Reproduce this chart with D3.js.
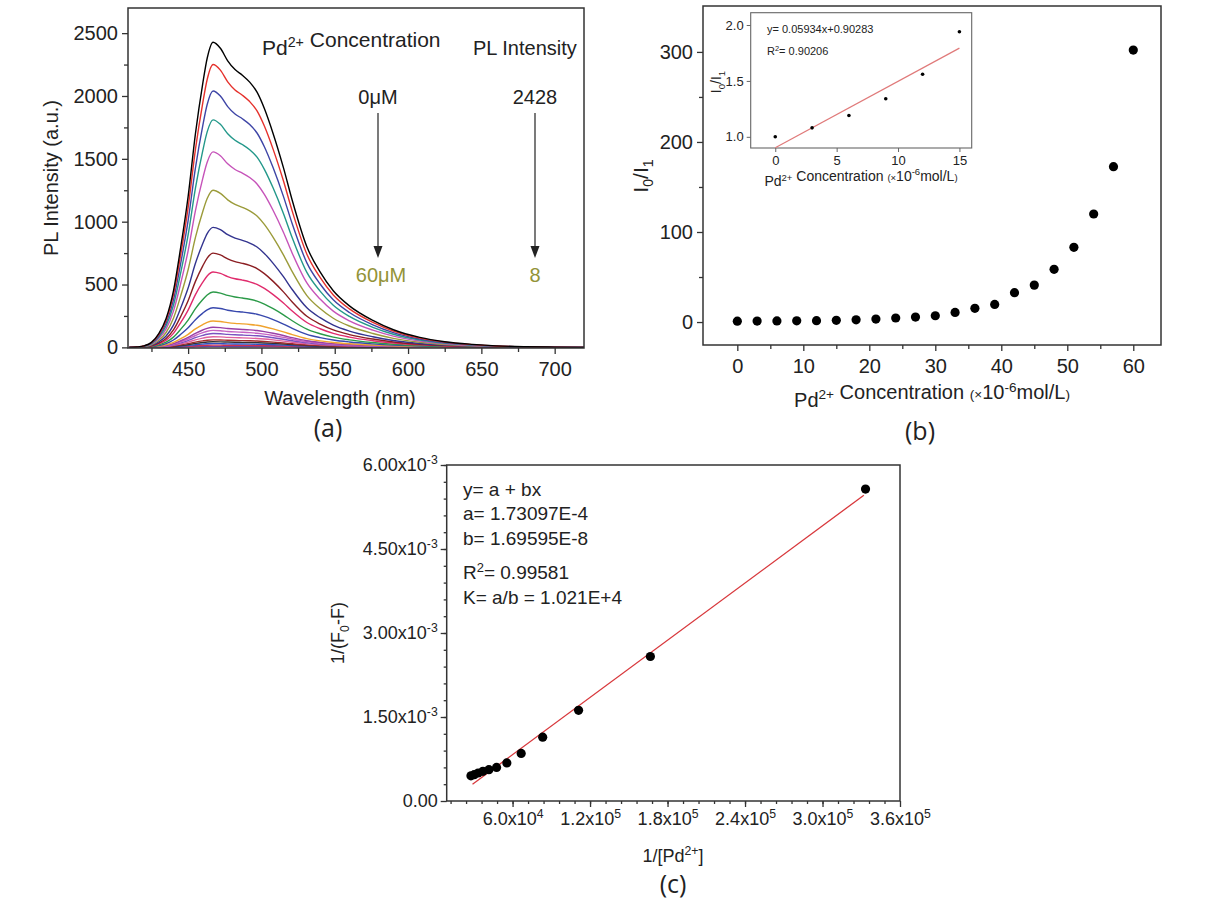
<!DOCTYPE html>
<html>
<head>
<meta charset="utf-8">
<script src="https://cdn.jsdelivr.net/npm/d3@7"></script>
<style>
  body { margin: 0; background: #fff; }
  svg { font-family: "Liberation Sans", Arial, sans-serif; }
</style>
</head>
<body>
<svg width="1208" height="908"></svg>
<script>
// ---------- data ----------
// (a) PL spectra: one measured profile (0 uM, black) and the peak of every curve
const wavelengths = [410, 415, 420, 425, 430, 435, 440, 445, 450, 455, 460, 463, 467, 472, 477, 482, 487, 492, 497, 502, 508, 515, 521, 531, 540, 549, 560, 576, 590, 608, 625, 644, 660, 680, 700, 720];
const spectrum0 = [0, 3, 12, 40, 110, 230, 450, 800, 1200, 1700, 2100, 2300, 2428, 2380, 2280, 2210, 2165, 2110, 2030, 1900, 1700, 1430, 1170, 800, 600, 450, 330, 214, 140, 79, 45, 24, 12, 5, 2, 0];
const pdConc = [0, 3, 6, 9, 12, 15, 18, 21, 24, 27, 30, 33, 36, 39, 42, 45, 48, 51, 54, 57, 60];
const peakIntensity = [2428, 2250, 2040, 1810, 1555, 1250, 955, 750, 600, 440, 315, 210, 160, 135, 110, 85, 60, 45, 30, 18, 8];
const curveColors = ["#000000", "#e5312c", "#3e45a6", "#23988a", "#c653b9", "#9b9b3a", "#33348f", "#8b1e22", "#e02b6c", "#2b9a48", "#3848ad", "#f0a32e", "#9a3fa6", "#c663c4", "#7a52c0", "#e0609e", "#a02c2c", "#333333", "#3050c0", "#d03050", "#6d3f9e"];

// (b) I0/I1 vs Pd2+ concentration, with inset
const ratioI0I1 = [1.0, 1.08, 1.2, 1.34, 1.56, 1.93, 2.5, 3.3, 4.5, 5.5, 7, 10.7, 15.2, 19.6, 32.6, 41, 58.5, 83, 120, 172.6, 302];
const insetConc = [0, 3, 6, 9, 12, 15];
const insetRatio = [1.0, 1.08, 1.19, 1.34, 1.56, 1.94];
const insetFitX = [0, 15];
const insetFitY = [0.903, 1.793];

// (c) 1/(F0-F) vs 1/[Pd2+]
const invPd = [3.333e5, 1.667e5, 1.111e5, 8.333e4, 6.667e4, 5.556e4, 4.762e4, 4.167e4, 3.704e4, 3.333e4, 3.030e4, 2.778e4];
const invDiff = [5.57e-3, 2.58e-3, 1.62e-3, 1.14e-3, 0.85e-3, 0.68e-3, 0.60e-3, 0.56e-3, 0.53e-3, 0.50e-3, 0.47e-3, 0.45e-3];
const fitX = [2.9e4, 3.32e5];
const fitY = [0.30e-3, 5.46e-3];

const svg = d3.select("svg");
const INK = "#222";
const PANEL_FONT = '"Open Sans", "DejaVu Sans", sans-serif';

// text with super/subscripts: parts = ["txt", ["2+", "sup"], ...]
function rich(sel, parts, size) {
  sel.text(null);
  let shift = 0;
  parts.forEach(p => {
    const [t, k] = Array.isArray(p) ? p : [p, "n"];
    const target = k === "sup" ? -0.38 * size : k === "sub" ? 0.26 * size : 0;
    const ts = sel.append("tspan").text(t);
    if (target !== shift) ts.attr("dy", target - shift);
    shift = target;
    if (k !== "n") ts.attr("font-size", 0.68 * size);
  });
}

function label(x, y, parts, size, opts = {}) {
  const t = svg.append("text")
    .attr("x", x).attr("y", y)
    .attr("font-size", size)
    .attr("fill", opts.fill || INK)
    .attr("text-anchor", opts.anchor || "middle");
  if (opts.family) t.attr("font-family", opts.family);
  if (opts.rotate) t.attr("transform", `rotate(-90,${x},${y})`);
  rich(t, parts, size);
  return t;
}

// framed axes with outward major + minor ticks
function axes(x, y, o) {
  const [x0, x1] = x.range(), [yb, yt] = y.range();
  const g = svg.append("g");
  const col = o.color || "#333";
  const style = sel => {
    sel.select(".domain").remove();
    sel.selectAll(".tick line").attr("stroke", col).attr("stroke-width", o.tickWidth || 1.3);
    sel.selectAll(".tick text").attr("fill", INK).attr("font-size", o.size);
  };
  if (o.xMinor) g.append("g").attr("transform", `translate(0,${yb})`)
    .call(d3.axisBottom(x).tickValues(o.xMinor).tickSize(o.minor).tickFormat("")).call(style);
  if (o.yMinor) g.append("g").attr("transform", `translate(${x0},0)`)
    .call(d3.axisLeft(y).tickValues(o.yMinor).tickSize(o.minor).tickFormat("")).call(style);
  const gx = g.append("g").attr("transform", `translate(0,${yb})`)
    .call(d3.axisBottom(x).tickValues(o.xMajor).tickSize(o.major).tickPadding(o.xPad).tickFormat(d => d))
    .call(style);
  const gy = g.append("g").attr("transform", `translate(${x0},0)`)
    .call(d3.axisLeft(y).tickValues(o.yMajor).tickSize(o.major).tickPadding(o.yPad).tickFormat(d => d))
    .call(style);
  if (o.xFmt) gx.selectAll(".tick text").each(function (d) { rich(d3.select(this), o.xFmt(d), o.size); });
  if (o.yFmt) gy.selectAll(".tick text").each(function (d) { rich(d3.select(this), o.yFmt(d), o.size); });
  g.append("rect")
    .attr("x", x0).attr("y", yt).attr("width", x1 - x0).attr("height", yb - yt)
    .attr("fill", "none").attr("stroke", col).attr("stroke-width", o.frameWidth || 1.5);
  return g;
}

function arrow(x, yFrom, yTo) {
  svg.append("line").attr("x1", x).attr("x2", x).attr("y1", yFrom).attr("y2", yTo - 10)
    .attr("stroke", "#333").attr("stroke-width", 1.3);
  svg.append("path")
    .attr("d", `M${x - 4.5},${yTo - 12}L${x + 4.5},${yTo - 12}L${x},${yTo}Z`)
    .attr("fill", "#222");
}

// ---------- (a) ----------
const ax = d3.scaleLinear().domain([409, 720]).range([128, 584]);
const ay = d3.scaleLinear().domain([-5, 2700]).range([348, 8]);

svg.append("clipPath").attr("id", "clipA").append("rect")
  .attr("x", 128).attr("y", 8).attr("width", 456).attr("height", 340);

const spectra = peakIntensity.map(p => spectrum0.map(v => v * p / 2428));
const lineA = d3.line()
  .x((d, i) => ax(wavelengths[i]))
  .y(d => ay(d))
  .curve(d3.curveMonotoneX);

svg.append("g").attr("clip-path", "url(#clipA)")
  .selectAll("path")
  .data(spectra.map((s, i) => ({ s, i })).reverse())
  .join("path")
  .attr("d", d => lineA(d.s))
  .attr("fill", "none")
  .attr("stroke", d => curveColors[d.i])
  .attr("stroke-width", 1.4);

axes(ax, ay, {
  xMajor: d3.range(450, 701, 50), xMinor: d3.range(425, 700, 50),
  yMajor: d3.range(0, 2501, 500), yMinor: d3.range(250, 2300, 500),
  major: 6, minor: 4, xPad: 8, yPad: 4, size: 20
});

label(340, 405, ["Wavelength (nm)"], 20);
label(58, 178, ["PL Intensity (a.u.)"], 20, { rotate: true });
label(262, 55, ["Pd", ["2+", "sup"], ["", "n"], " Concentration"], 21, { anchor: "start" });
label(473, 55, ["PL Intensity"], 20, { anchor: "start" });
label(378, 104, ["0\u03bcM"], 20);
label(535, 104, ["2428"], 20);
arrow(378, 113, 258);
arrow(535, 113, 258);
label(381, 282, ["60\u03bcM"], 20, { fill: "#939338" });
label(535, 282, ["8"], 20, { fill: "#939338" });
label(328, 437, ["(a)"], 25, { family: PANEL_FONT });

// ---------- (b) ----------
const bx = d3.scaleLinear().domain([-5.2, 64.2]).range([703, 1161]);
const by = d3.scaleLinear().domain([-25.5, 351]).range([345, 6]);

axes(bx, by, {
  xMajor: d3.range(0, 61, 10), xMinor: d3.range(5, 60, 10),
  yMajor: d3.range(0, 301, 100), yMinor: d3.range(50, 300, 100),
  major: 6, minor: 4, xPad: 8, yPad: 4, size: 20
});

svg.append("g").selectAll("circle")
  .data(pdConc.map((c, i) => [c, ratioI0I1[i]]))
  .join("circle")
  .attr("cx", d => bx(d[0])).attr("cy", d => by(d[1]))
  .attr("r", 4.6).attr("fill", "#000");

const concTitle = ["Pd", ["2+", "sup"], ["", "n"], " Concentration ", ["(\u00d7", "small"], ["10", "n"], ["-6", "sup"], ["mol/L", "n"], [")", "small"]];
label(932, 407, concTitle, 20);
label(648, 176, ["I", ["0", "sub"], ["/I", "n"], ["1", "sub"]], 21, { rotate: true });
label(920, 440, ["(b)"], 25, { family: PANEL_FONT });

// inset
const ix = d3.scaleLinear().domain([-2, 16]).range([750.7, 971.7]);
const iy = d3.scaleLinear().domain([0.9, 2.11]).range([148, 12.7]);
axes(ix, iy, {
  xMajor: [0, 5, 10, 15], yMajor: [1.0, 1.5, 2.0],
  major: 4, minor: 2, xPad: 4, yPad: 3, size: 13,
  color: "#666", frameWidth: 1.1, tickWidth: 1,
  yFmt: d => [d3.format(".1f")(d)]
});
svg.append("line")
  .attr("x1", ix(insetFitX[0])).attr("y1", iy(insetFitY[0]))
  .attr("x2", ix(insetFitX[1])).attr("y2", iy(insetFitY[1]))
  .attr("stroke", "#e07a7a").attr("stroke-width", 1.2);
svg.append("g").selectAll("circle")
  .data(insetConc.map((c, i) => [c, insetRatio[i]]))
  .join("circle")
  .attr("cx", d => ix(d[0])).attr("cy", d => iy(d[1]))
  .attr("r", 1.8).attr("fill", "#000");
label(767, 33, ["y= 0.05934x+0.90283"], 11, { anchor: "start" });
label(767, 55, ["R", ["2", "sup"], ["= 0.90206", "n"]], 11, { anchor: "start" });
label(861, 186, concTitle, 14);
label(721, 82, ["I", ["0", "sub"], ["/I", "n"], ["1", "sub"]], 14, { rotate: true });

// ---------- (c) ----------
const cx = d3.scaleLinear().domain([9000, 360000]).range([446.7, 900]);
const cy = d3.scaleLinear().domain([0, 6e-3]).range([801, 465]);

const sci = (d, digits) => {
  const e = Math.floor(Math.log10(d));
  return [(d / Math.pow(10, e)).toFixed(digits) + "x10", [String(e), "sup"]];
};
axes(cx, cy, {
  xMajor: d3.range(6e4, 3.6e5 + 1, 6e4), xMinor: d3.range(1.2e4, 3.6e5, 1.2e4),
  yMajor: d3.range(0, 6.01e-3, 1.5e-3), yMinor: d3.range(3e-4, 6e-3, 3e-4),
  major: 6, minor: 3, xPad: 5, yPad: 3, size: 18,
  xFmt: d => sci(d, 1),
  yFmt: d => d === 0 ? ["0.00"] : sci(d, 2)
});

svg.append("line")
  .attr("x1", cx(fitX[0])).attr("y1", cy(fitY[0]))
  .attr("x2", cx(fitX[1])).attr("y2", cy(fitY[1]))
  .attr("stroke", "#d8383c").attr("stroke-width", 1.3);
svg.append("g").selectAll("circle")
  .data(invPd.map((v, i) => [v, invDiff[i]]))
  .join("circle")
  .attr("cx", d => cx(d[0])).attr("cy", d => cy(d[1]))
  .attr("r", 4.6).attr("fill", "#000");

const fitText = [
  ["y= a + bx"],
  ["a= 1.73097E-4"],
  ["b= 1.69595E-8"],
  ["R", ["2", "sup"], ["= 0.99581", "n"]],
  ["K= a/b = 1.021E+4"]
];
const fitTextY = [496, 520, 545, 579, 604];
fitText.forEach((t, i) => label(463, fitTextY[i], t, 19, { anchor: "start" }));

label(673, 862, ["1/[Pd", ["2+", "sup"], ["]", "n"]], 18);
label(344, 633, ["1/(F", ["0", "sub"], ["-F)", "n"]], 18, { rotate: true });
label(673, 893, ["(c)"], 25, { family: PANEL_FONT });
</script>
</body>
</html>
